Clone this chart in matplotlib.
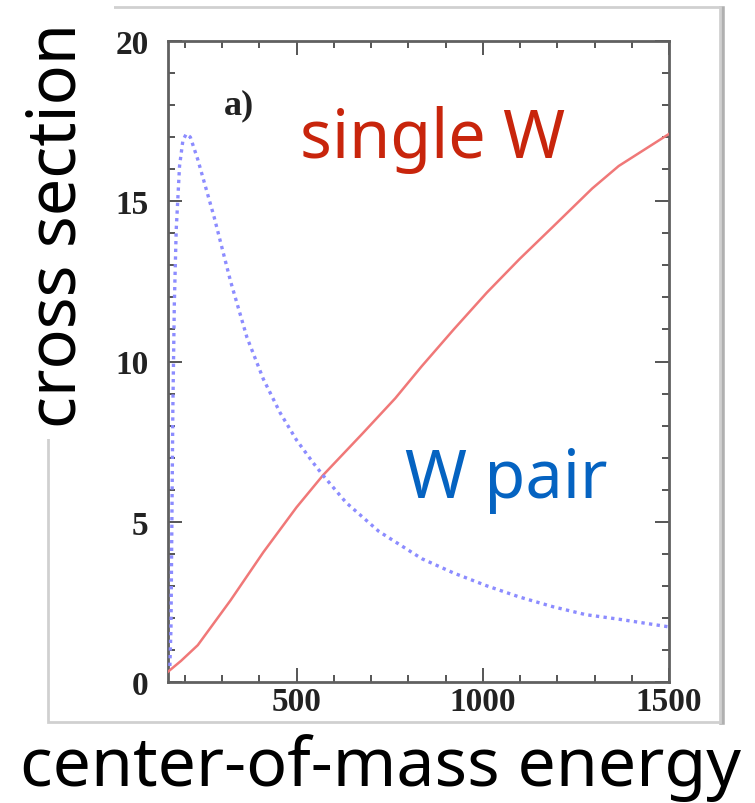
import matplotlib.pyplot as plt
from matplotlib.patches import Rectangle
from matplotlib.lines import Line2D
from matplotlib.ticker import MultipleLocator

# single W production
single_x = [155, 190, 235, 323, 411, 500, 571, 677, 765, 836, 922, 1011, 1099, 1188, 1294, 1365, 1500]
single_y = [0.32, 0.66, 1.15, 2.55, 4.05, 5.45, 6.45, 7.75, 8.85, 9.85, 11.0, 12.15, 13.2, 14.2, 15.4, 16.1, 17.1]

# W pair production
pair_x = [160, 163, 168, 172, 177, 186, 195, 204, 215, 235, 279, 323, 367, 411, 456, 500, 544,
          571, 633, 721, 836, 922, 1011, 1099, 1188, 1277, 1365, 1500]
pair_y = [0.5, 1.7, 8.5, 11.8, 14.1, 16.1, 16.9, 17.1, 17.0, 16.3, 14.5, 12.5, 10.75, 9.45, 8.4, 7.55, 6.85,
          6.45, 5.6, 4.7, 3.85, 3.4, 3.0, 2.65, 2.35, 2.1, 1.96, 1.72]

x_ticks = [500, 1000, 1500]
y_ticks = [0, 5, 10, 15, 20]

fig = plt.figure(figsize=(7.55, 8.04), dpi=100)

# pasted-picture frame (behind the axes)
fig.patches.append(Rectangle((48 / 755, 1 - 723 / 804), 672 / 755, 715 / 804,
                             transform=fig.transFigure, facecolor='white',
                             edgecolor='#d0d0d0', linewidth=2, zorder=-3))
fig.lines.append(Line2D([722 / 755, 722 / 755], [1 - 723 / 804, 1 - 10 / 804],
                        transform=fig.transFigure, color='#b0b0b0', linewidth=4, zorder=-3))
fig.patches.append(Rectangle((0, 1 - 440 / 804), 114 / 755, 440 / 804,
                             transform=fig.transFigure, facecolor='white',
                             edgecolor='none', zorder=-2))

ax = fig.add_axes([168 / 755, 1 - 683 / 804, 501 / 755, 641 / 804])
ax.set_zorder(1)
ax.plot(single_x, single_y, color='#f07878', linewidth=1.8, zorder=3)
ax.plot(pair_x, pair_y, color='#8c8cff', linewidth=2.4, linestyle=(0, (1, 1.3)), zorder=3)

ax.set_xlim(155, 1500)
ax.set_ylim(0, 20)
ax.set_xticks(x_ticks)
ax.set_yticks(y_ticks)
ax.xaxis.set_minor_locator(MultipleLocator(100))
ax.yaxis.set_minor_locator(MultipleLocator(1))
ax.tick_params(which='both', direction='in', top=True, right=True, color='#555555', width=1.4)
ax.tick_params(which='major', length=10)
ax.tick_params(which='minor', length=5)
ax.tick_params(axis='x', pad=3)
ax.tick_params(axis='y', pad=14)
for lab in ax.get_xticklabels() + ax.get_yticklabels():
    lab.set_fontfamily('Liberation Serif')
    lab.set_fontweight('bold')
    lab.set_fontsize(24)
    lab.set_color('#222222')
for sp in ax.spines.values():
    sp.set_color('#606060')
    sp.set_linewidth(2)

ax.text(345, 18.0, 'a)', fontfamily='Liberation Serif', fontweight='bold', fontsize=26,
        color='#222222', ha='center', va='center')

fig.text(300 / 755, 1 - 140 / 804, 'single W', fontfamily='Noto Sans', fontsize=48,
         color='#c8250c', ha='left', va='center', zorder=5)
fig.text(405 / 755, 1 - 480 / 804, 'W pair', fontfamily='Noto Sans', fontsize=48,
         color='#0563c1', ha='left', va='center', zorder=5)
fig.text(58 / 755, 1 - 225 / 804, 'cross section', fontfamily='Noto Sans', fontsize=48,
         color='black', rotation=90, ha='center', va='center', zorder=5)
fig.text(380 / 755, 1 - 768 / 804, 'center-of-mass energy', fontfamily='Noto Sans', fontsize=49,
         color='black', ha='center', va='center', zorder=5)

fig.savefig('out.png', dpi=100)
